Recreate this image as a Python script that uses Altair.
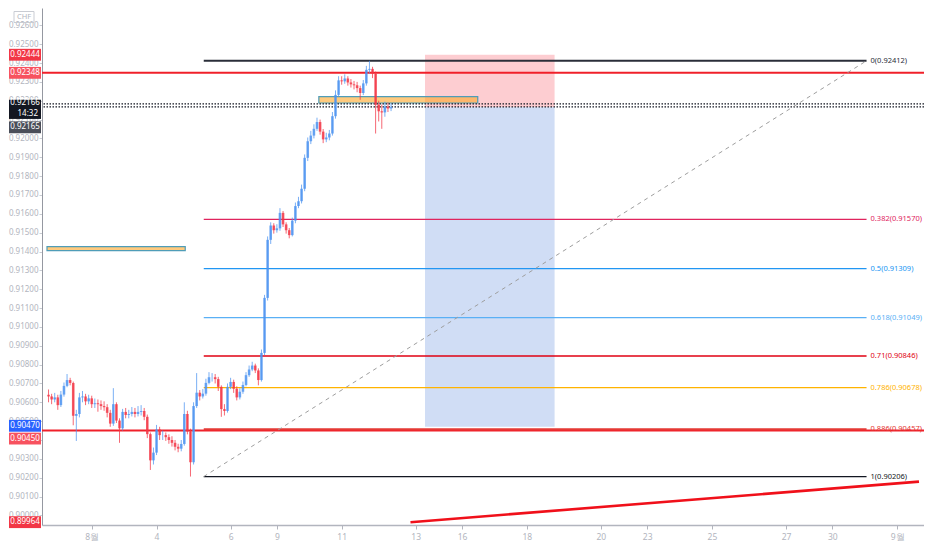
import altair as alt
import pandas as pd

FONT = "Noto Sans"

# ---------------- scales ----------------
y_top, y_bot = 0.92692, 0.89949
x_min, x_max = 0, 282.6

# ---------------- candles (2h bars) ----------------
open0 = 0.90640
closes = [
    0.90631, 0.90615, 0.90626, 0.90585, 0.90641, 0.90687, 0.90718, 0.90703, 0.90528, 0.90538,
    0.90626, 0.90631, 0.90605, 0.90621, 0.90590, 0.90595, 0.90590, 0.90580, 0.90574, 0.90544,
    0.90487, 0.90590, 0.90503, 0.90462, 0.90549, 0.90533, 0.90538, 0.90549, 0.90538, 0.90549,
    0.90554, 0.90523, 0.90431, 0.90292, 0.90333, 0.90456, 0.90426, 0.90426, 0.90415, 0.90400,
    0.90385, 0.90364, 0.90354, 0.90379, 0.90538, 0.90446, 0.90282, 0.90580, 0.90651, 0.90631,
    0.90646, 0.90703, 0.90733, 0.90733, 0.90723, 0.90682, 0.90564, 0.90554, 0.90682, 0.90708,
    0.90672, 0.90626, 0.90656, 0.90692, 0.90744, 0.90774, 0.90795, 0.90769, 0.90718, 0.90862,
    0.91154, 0.91462, 0.91538, 0.91513, 0.91523, 0.91605, 0.91544, 0.91513, 0.91487, 0.91564,
    0.91641, 0.91667, 0.91733, 0.91897, 0.91985, 0.92015, 0.92051, 0.92087, 0.92036, 0.91995,
    0.92005, 0.92026, 0.92118, 0.92231, 0.92308, 0.92303, 0.92318, 0.92297, 0.92287, 0.92282,
    0.92267, 0.92241, 0.92292, 0.92364, 0.92369, 0.92344, 0.92179, 0.92144, 0.92138, 0.92169,
    0.92159, 0.92166]
highs = [
    0.90668, 0.90645, 0.90650, 0.90640, 0.90660, 0.90705, 0.90750, 0.90730, 0.90710, 0.90560,
    0.90650, 0.90660, 0.90645, 0.90640, 0.90635, 0.90620, 0.90615, 0.90610, 0.90605, 0.90590,
    0.90560, 0.90675, 0.90600, 0.90515, 0.90565, 0.90570, 0.90560, 0.90575, 0.90570, 0.90580,
    0.90585, 0.90570, 0.90535, 0.90440, 0.90360, 0.90480, 0.90470, 0.90450, 0.90440, 0.90430,
    0.90420, 0.90400, 0.90380, 0.90400, 0.90600, 0.90555, 0.90460, 0.90600, 0.90755, 0.90665,
    0.90670, 0.90725, 0.90760, 0.90755, 0.90750, 0.90735, 0.90690, 0.90590, 0.90700, 0.90730,
    0.90720, 0.90685, 0.90675, 0.90710, 0.90760, 0.90795, 0.90815, 0.90805, 0.90780, 0.90880,
    0.91170, 0.91480, 0.91555, 0.91550, 0.91545, 0.91630, 0.91615, 0.91555, 0.91525, 0.91580,
    0.91660, 0.91690, 0.91755, 0.91915, 0.92005, 0.92040, 0.92075, 0.92110, 0.92100, 0.92050,
    0.92030, 0.92045, 0.92140, 0.92255, 0.92330, 0.92330, 0.92340, 0.92330, 0.92315, 0.92305,
    0.92300, 0.92280, 0.92310, 0.92385, 0.92412, 0.92380, 0.92355, 0.92200, 0.92180, 0.92195,
    0.92190, 0.92185]
lows = [
    0.90600, 0.90590, 0.90600, 0.90560, 0.90575, 0.90630, 0.90680, 0.90690, 0.90478, 0.90395,
    0.90520, 0.90600, 0.90585, 0.90590, 0.90570, 0.90570, 0.90550, 0.90560, 0.90555, 0.90520,
    0.90470, 0.90475, 0.90490, 0.90385, 0.90450, 0.90515, 0.90515, 0.90525, 0.90520, 0.90525,
    0.90530, 0.90505, 0.90410, 0.90241, 0.90270, 0.90320, 0.90400, 0.90400, 0.90395, 0.90380,
    0.90365, 0.90345, 0.90335, 0.90340, 0.90370, 0.90430, 0.90206, 0.90270, 0.90570, 0.90610,
    0.90620, 0.90635, 0.90695, 0.90710, 0.90700, 0.90660, 0.90523, 0.90530, 0.90545, 0.90670,
    0.90650, 0.90610, 0.90615, 0.90645, 0.90685, 0.90735, 0.90765, 0.90755, 0.90690, 0.90710,
    0.90850, 0.91140, 0.91440, 0.91495, 0.91500, 0.91510, 0.91530, 0.91495, 0.91470, 0.91480,
    0.91550, 0.91630, 0.91655, 0.91720, 0.91880, 0.91970, 0.92000, 0.92040, 0.92020, 0.91975,
    0.91980, 0.91990, 0.92015, 0.92105, 0.92220, 0.92285, 0.92290, 0.92280, 0.92270, 0.92260,
    0.92245, 0.92205, 0.92230, 0.92280, 0.92345, 0.92320, 0.92026, 0.92090, 0.92051, 0.92115,
    0.92140, 0.92145]

# ---------------- axes ----------------
x_tick_pos = [14.5, 35.5, 59.5, 74.5, 95.5, 119.5, 134.5, 155.5, 179.5, 194.5, 215.5, 239.5, 254.5, 275.5]
x_tick_lab = ["8월", "4", "6", "9", "11", "13", "16", "18", "20", "23", "25", "27", "30", "9월"]
y_ticks = [0.900, 0.901, 0.902, 0.903, 0.904, 0.905, 0.906, 0.907, 0.908, 0.909, 0.910, 0.911,
           0.912, 0.913, 0.914, 0.915, 0.916, 0.917, 0.918, 0.919, 0.920, 0.921, 0.922, 0.923,
           0.924, 0.925, 0.926]

# ---------------- Fibonacci retracement ----------------
fib_x0, fib_x1, fib_label_x = 50.8, 265.6, 266.9
fib_ratio = ["0", "0.382", "0.5", "0.618", "0.71", "0.786", "0.886", "1"]
fib_price = [0.92412, 0.91570, 0.91309, 0.91049, 0.90846, 0.90678, 0.90457, 0.90206]
fib_color = ["#2a2e39", "#e0245e", "#2196f3", "#5ab0f5", "#e00012", "#ffb300", "#e53935", "#131722"]

# ---------------- other drawings ----------------
hlines_red = [0.92348, 0.90450]
dotted_lines = [0.92183, 0.92167]
short_x = [122.5, 164.5]
short_stop, short_entry, short_target = 0.92444, 0.92165, 0.90470
zone_top = dict(x0=88.1, x1=139.6, y0=0.92188, y1=0.92222)
zone_left = dict(x0=0.0, x1=44.8, y0=0.91405, y1=0.91426)
trend_x = [117.8, 282.6]
trend_y = [0.89964, 0.90179]

# price tags on the price axis
tag_price = [0.92444, 0.92348, 0.90470, 0.90450, 0.89964]
tag_text = ["0.92444", "0.92348", "0.90470", "0.90450", "0.89964"]
tag_fill = ["#f23645", "#f7525f", "#2962ff", "#f7525f", "#f23645"]
tag_shift = [0, 0, -1, 8, 0]
last_price, last_time, prev_price = 0.92166, "14:32", 0.92165

# ---------------- build ----------------
xs = alt.Scale(domain=[x_min, x_max], nice=False, zero=False)
ys = alt.Scale(domain=[y_bot, y_top], nice=False, zero=False)

label_expr = "[" + ",".join("'%s'" % s for s in x_tick_lab) + "][indexof([" + \
    ",".join(str(v) for v in x_tick_pos) + "], datum.value)]"
xaxis = alt.Axis(values=x_tick_pos, labelExpr=label_expr, title=None, grid=False,
                 tickSize=4, labelPadding=3, domainColor="#b2b5be", domainWidth=1.5,
                 tickColor="#b2b5be", labelFontSize=8.5)
yaxis = alt.Axis(values=y_ticks, format=".5f", title=None, grid=False, tickSize=3,
                 labelPadding=1, domainColor="#9598a1", tickColor="#c9ccd3", labelFontSize=8)


def X(f):
    return alt.X(f, scale=xs, axis=xaxis)


def Y(f):
    return alt.Y(f, scale=ys, axis=yaxis)


candles = pd.DataFrame({"i": list(range(len(closes))), "c": closes, "h": highs, "l": lows})
candles["o"] = [open0] + closes[:-1]
candles["x"] = candles["i"] + 0.5
candles["col"] = ["#4d94f0" if c >= o else "#f23645" for o, c in zip(candles["o"], candles["c"])]

layers = []

# short position boxes
pos_df = pd.DataFrame({
    "x0": [short_x[0], short_x[0]], "x1": [short_x[1], short_x[1]],
    "y0": [short_entry, short_target], "y1": [short_stop, short_entry],
    "fill": ["#fdcdd1", "#d0ddf5"]})
layers.append(alt.Chart(pos_df).mark_rect().encode(
    x=X("x0:Q"), x2="x1:Q", y=Y("y0:Q"), y2="y1:Q", color=alt.Color("fill:N", scale=None)))

zones_df = pd.DataFrame([zone_top, zone_left])
layers.append(alt.Chart(zones_df).mark_rect(fill="#ffa726", fillOpacity=0.6, stroke="#4f9db8",
                                            strokeWidth=1.2).encode(
    x=X("x0:Q"), x2="x1:Q", y=Y("y0:Q"), y2="y1:Q"))

layers.append(alt.Chart(pd.DataFrame({"p": hlines_red})).mark_rule(
    color="#f0202a", strokeWidth=2).encode(y=Y("p:Q")))
layers.append(alt.Chart(pd.DataFrame({"p": dotted_lines})).mark_rule(
    color="#131722", strokeWidth=1.2, strokeDash=[1.5, 1.5]).encode(y=Y("p:Q")))

fib_df = pd.DataFrame({"p": fib_price, "r": fib_ratio, "col": fib_color,
                       "x0": fib_x0, "x1": fib_x1, "lx": fib_label_x})
fib_df["lab"] = [f"{r}({p:.5f})" for r, p in zip(fib_ratio, fib_price)]
fib_df["w"] = [2, 1.3, 1.3, 1.3, 1.5, 1.3, 2.2, 1.3]
layers.append(alt.Chart(fib_df).mark_rule().encode(
    x=X("x0:Q"), x2="x1:Q", y=Y("p:Q"), color=alt.Color("col:N", scale=None),
    strokeWidth=alt.StrokeWidth("w:Q", scale=None)))

layers.append(alt.Chart(pd.DataFrame({"x0": [fib_x0], "x1": [fib_x1],
                                      "y0": [fib_price[-1]], "y1": [fib_price[0]]})).mark_rule(
    color="#9e9e9e", strokeWidth=1, strokeDash=[4, 4]).encode(
    x=X("x0:Q"), x2="x1:Q", y=Y("y0:Q"), y2="y1:Q"))

layers.append(alt.Chart(candles).mark_rule(strokeWidth=1, opacity=0.75).encode(
    x=X("x:Q"), y=Y("l:Q"), y2="h:Q", color=alt.Color("col:N", scale=None)))
layers.append(alt.Chart(candles).mark_bar(size=2.6, opacity=0.8).encode(
    x=X("x:Q"), y=Y("o:Q"), y2="c:Q", color=alt.Color("col:N", scale=None)))

layers.append(alt.Chart(pd.DataFrame({"x0": [trend_x[0]], "x1": [trend_x[1]],
                                      "y0": [trend_y[0]], "y1": [trend_y[1]]})).mark_rule(
    color="#f0101a", strokeWidth=2.6, clip=True).encode(
    x=X("x0:Q"), x2="x1:Q", y=Y("y0:Q"), y2="y1:Q"))

layers.append(alt.Chart(fib_df).mark_text(align="left", baseline="middle", fontSize=7.5,
                                          font=FONT).encode(
    x=X("lx:Q"), y=Y("p:Q"), text="lab:N", color=alt.Color("col:N", scale=None)))

# price tags
box = "M-1,-0.37L1,-0.37L1,0.37L-1,0.37Z"
box2 = "M-1,-0.40L1,-0.40L1,0.80L-1,0.80Z"
TAG_X = -17
TAG_SIZE = 1024
for p, t, f, s in zip(tag_price, tag_text, tag_fill, tag_shift):
    d = pd.DataFrame({"p": [p], "t": [t]})
    layers.append(alt.Chart(d).mark_point(shape=box, filled=True, size=TAG_SIZE, opacity=1,
                                          color=f, yOffset=s).encode(
        x=alt.value(TAG_X), y=Y("p:Q")))
    layers.append(alt.Chart(d).mark_text(fontSize=8, font=FONT, color="white",
                                         baseline="middle", dy=s).encode(
        x=alt.value(TAG_X), y=Y("p:Q"), text="t:N"))

last_df = pd.DataFrame({"p": [last_price], "t": [f"{last_price:.5f}"], "tm": [last_time],
                        "p2": [prev_price], "t2": [f"{prev_price:.5f}"]})
layers.append(alt.Chart(last_df).mark_point(shape=box2, filled=True, size=TAG_SIZE, opacity=1,
                                            color="#131722", yOffset=-1).encode(
    x=alt.value(TAG_X), y=Y("p:Q")))
layers.append(alt.Chart(last_df).mark_text(fontSize=8, font=FONT, color="white",
                                           baseline="middle", dy=-4).encode(
    x=alt.value(TAG_X), y=Y("p:Q"), text="t:N"))
layers.append(alt.Chart(last_df).mark_text(fontSize=8, font=FONT, color="white",
                                           baseline="middle", align="right", dy=7).encode(
    x=alt.value(-4), y=Y("p:Q"), text="tm:N"))
layers.append(alt.Chart(last_df).mark_point(shape=box, filled=True, size=TAG_SIZE, opacity=1,
                                            color="#4a4e59", yOffset=20).encode(
    x=alt.value(TAG_X), y=Y("p2:Q")))
layers.append(alt.Chart(last_df).mark_text(fontSize=8, font=FONT, color="white",
                                           baseline="middle", dy=20).encode(
    x=alt.value(TAG_X), y=Y("p2:Q"), text="t2:N"))

chf_df = pd.DataFrame({"t": ["CHF"]})
layers.append(alt.Chart(chf_df).mark_point(shape="M-1,-0.55L1,-0.55L1,0.55L-1,0.55Z",
                                           filled=False, size=400, color="#c9ccd3",
                                           strokeWidth=1, opacity=1).encode(
    x=alt.value(-18), y=alt.value(9)))
layers.append(alt.Chart(chf_df).mark_text(fontSize=7.5, font=FONT, color="#b2b5be",
                                          baseline="middle").encode(
    x=alt.value(-18), y=alt.value(9), text="t:N"))

chart = alt.layer(*layers).properties(
    width=882, height=517, background="white",
    autosize=alt.AutoSizeParams(type="none"),
    padding={"left": 34, "top": 0, "right": 0, "bottom": 17},
).configure_axis(
    labelFont=FONT, labelColor="#b2b5be"
).configure_view(strokeWidth=0)

chart.save("out.html", embed_options={"renderer": "svg", "actions": False})
